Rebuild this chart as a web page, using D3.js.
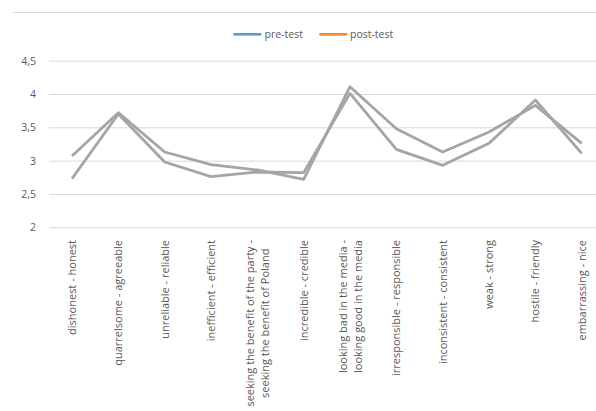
<!DOCTYPE html>
<html><head><meta charset="utf-8">
<script src="https://cdn.jsdelivr.net/npm/d3@7"></script>
<style>html,body{margin:0;padding:0;background:#fff;}svg{display:block;}</style>
</head><body>
<svg id="c" width="596" height="411"></svg>
<script>
const categories = [
  ["dishonest - honest"],
  ["quarrelsome - agreeable"],
  ["unreliable - reliable"],
  ["inefficient - efficient"],
  ["seeking the benefit of the party -", "seeking the benefit of Poland"],
  ["incredible - credible"],
  ["looking bad in the media -", "looking good in the media"],
  ["irresponsible - responsible"],
  ["inconsistent - consistent"],
  ["weak - strong"],
  ["hostile - friendly"],
  ["embarrassing - nice"]
];
const preTest  = [3.07, 3.72, 3.13, 2.94, 2.86, 2.72, 4.11, 3.48, 3.13, 3.43, 3.83, 3.26];
const postTest = [2.73, 3.70, 2.98, 2.76, 2.83, 2.82, 4.01, 3.17, 2.93, 3.26, 3.91, 3.11];
const yTicks = [2, 2.5, 3, 3.5, 4, 4.5];
const seriesNames = ["pre-test", "post-test"];
const legendColors = ["#5B9BD5", "#F0883A"];

const svg = d3.select("#c");
const font = "Open Sans, Noto Sans, sans-serif";
const textColor = "#595959";

const x = d3.scalePoint().domain(d3.range(categories.length)).range([72, 581.7]);
const y = d3.scaleLinear().domain([2, 4.5]).range([227.3, 60.7]);

// top border line
svg.append("line").attr("x1", 13).attr("x2", 596).attr("y1", 12.5).attr("y2", 12.5)
  .attr("stroke", "#d9d9d9").attr("stroke-width", 1);

// gridlines + y axis
const yAxis = d3.axisLeft(y).tickValues(yTicks).tickSize(-(596 - 49))
  .tickFormat(d => d3.format(".1~f")(d).replace(".", ","));
const gy = svg.append("g").attr("transform", "translate(49,0)").call(yAxis);
gy.select(".domain").remove();
gy.selectAll(".tick line").attr("stroke", "#d9d9d9").attr("stroke-width", 1);
gy.selectAll(".tick text").attr("x", -13).attr("fill", textColor)
  .attr("font-family", font).attr("font-size", 10.5);

// lines
const line = d3.line().x((d, i) => x(i)).y(d => y(d));
[preTest, postTest].forEach(s => {
  svg.append("path").datum(s).attr("d", line).attr("fill", "none")
    .attr("stroke", "#a5a5a5").attr("stroke-width", 2.8).attr("stroke-linejoin", "round");
});

// x labels (rotated)
const labelTop = 240;
const lineGap = 15;
categories.forEach((lines, i) => {
  const g = svg.append("g");
  const texts = lines.map((t, k) => g.append("text").text(t)
    .attr("font-family", font).attr("font-size", 11).attr("fill", textColor)
    .attr("text-anchor", "middle"));
  const lens = texts.map(t => t.node().getComputedTextLength());
  const maxLen = d3.max(lens);
  const cy = labelTop + maxLen / 2;
  const n = lines.length;
  texts.forEach((t, k) => {
    const cx = x(i) + (k - (n - 1) / 2) * lineGap;
    t.attr("transform", `translate(${cx + 4},${cy}) rotate(-90)`);
  });
});

// legend
const legend = [[233.3, 264.5], [319.3, 350]];
seriesNames.forEach((name, i) => {
  const [lx, tx] = legend[i];
  svg.append("line").attr("x1", lx).attr("x2", lx + 28).attr("y1", 34.3).attr("y2", 34.3)
    .attr("stroke", legendColors[i]).attr("stroke-width", 2.6);
  svg.append("text").attr("x", tx).attr("y", 38).text(name)
    .attr("font-family", font).attr("font-size", 10.5).attr("fill", textColor);
});
</script>
</body></html>
